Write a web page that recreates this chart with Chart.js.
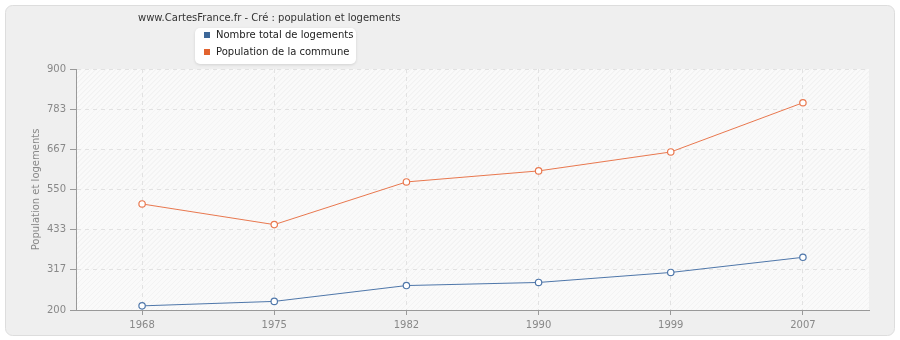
<!DOCTYPE html>
<html lang="fr">
<head>
  <meta charset="UTF-8" />
  <title>Cré : population et logements</title>
  <style>
    html, body { margin: 0; padding: 0; background: #ffffff; }
    #wrap { width: 900px; height: 340px; }
  </style>
</head>
<body>
  <div id="wrap"><canvas id="myChart" width="900" height="340"></canvas></div>

  <script src="https://cdn.jsdelivr.net/npm/chart.js"></script>
  <script>
    // données
    const annees = ['1968', '1975', '1982', '1990', '1999', '2007'];
    const logements = [212, 225, 271, 280, 309, 353];
    const population = [508, 448, 572, 604, 659, 802];
    const yTicks = [200, 317, 433, 550, 667, 783, 900];

    const titre = 'www.CartesFrance.fr - Cré : population et logements';
    const police = 'Tahoma, "DejaVu Sans", Verdana, sans-serif';

    // fond du cadre, zone hachurée, titre et légende
    const decor = {
      id: 'decor',
      beforeDraw(chart) {
        const ctx = chart.ctx;
        const a = chart.chartArea;
        ctx.save();
        // cadre arrondi
        ctx.fillStyle = '#efefef';
        ctx.strokeStyle = '#dddddd';
        ctx.lineWidth = 1;
        ctx.beginPath();
        ctx.roundRect(5.5, 5.5, 889, 330, 7);
        ctx.fill();
        ctx.stroke();

        // zone de tracé
        ctx.fillStyle = '#fafafa';
        ctx.fillRect(a.left, a.top, a.right - a.left, a.bottom - a.top);
        const ys = chart.scales.y;
        for (let i = 0; i < yTicks.length - 1; i++) {
          const yTop = ys.getPixelForValue(yTicks[i + 1]);
          const yBot = ys.getPixelForValue(yTicks[i]);
          ctx.save();
          ctx.beginPath();
          ctx.rect(a.left, yTop, a.right - a.left, yBot - yTop);
          ctx.clip();
          ctx.strokeStyle = (i % 2 === 1) ? '#eeeeee' : '#f3f3f3';
          ctx.lineWidth = 1;
          ctx.beginPath();
          for (let x = a.left - 300; x < a.right + 300; x += 5) {
            ctx.moveTo(x, yBot);
            ctx.lineTo(x + (yBot - yTop) + 20, yTop - 20);
          }
          ctx.stroke();
          ctx.restore();
        }
        ctx.restore();
      },
      afterDraw(chart) {
        const ctx = chart.ctx;
        ctx.save();
        ctx.font = '10px ' + police;
        ctx.fillStyle = '#333333';
        ctx.textBaseline = 'middle';
        ctx.textAlign = 'left';
        ctx.fillText(titre, 138, 18);

        // légende
        ctx.shadowColor = 'rgba(0,0,0,0.12)';
        ctx.shadowBlur = 3;
        ctx.shadowOffsetY = 1;
        ctx.fillStyle = '#ffffff';
        ctx.beginPath();
        ctx.roundRect(195, 28, 161, 36, 5);
        ctx.fill();
        ctx.shadowColor = 'transparent';
        chart.data.datasets.forEach((ds, i) => {
          const y = 35 + i * 17;
          ctx.fillStyle = ds.legendColor;
          ctx.fillRect(204, y - 3, 6, 6);
          ctx.fillStyle = '#222222';
          ctx.fillText(ds.label, 216, y);
        });
        ctx.restore();
      }
    };

    const context = document.getElementById('myChart').getContext('2d');
    const myChart = new Chart(context, {
      type: 'line',
      data: {
        labels: annees,
        datasets: [
          {
            label: 'Nombre total de logements',
            data: logements,
            borderColor: '#4f77aa',
            legendColor: '#3d6899',
            backgroundColor: '#ffffff',
            pointBackgroundColor: '#ffffff',
            pointBorderColor: '#4f77aa',
            borderWidth: 1,
            pointRadius: 3.2,
            pointBorderWidth: 1.2,
            tension: 0
          },
          {
            label: 'Population de la commune',
            data: population,
            borderColor: '#e9784f',
            legendColor: '#e2632f',
            backgroundColor: '#ffffff',
            pointBackgroundColor: '#ffffff',
            pointBorderColor: '#e9784f',
            borderWidth: 1,
            pointRadius: 3.2,
            pointBorderWidth: 1.2,
            tension: 0
          }
        ]
      },
      options: {
        responsive: false,
        animation: false,
        layout: { padding: { top: 69, right: 31, bottom: 5, left: 30 } },
        plugins: {
          legend: { display: false },
          title: { display: false },
          tooltip: { enabled: false }
        },
        scales: {
          x: {
            offset: true,
            grid: {
              color: '#e2e2e2',
              tickColor: '#999999',
              tickLength: 5,
              offset: false,
              drawOnChartArea: true
            },
            border: { color: '#999999', dash: [4, 4], display: true },
            ticks: { color: '#888888', font: { family: police, size: 10 }, padding: 4 }
          },
          y: {
            min: 200,
            max: 900,
            afterBuildTicks(scale) {
              scale.ticks = yTicks.map(v => ({ value: v }));
            },
            afterFit(scale) { scale.width = 46; },
            grid: { color: '#e2e2e2', tickColor: '#999999', tickLength: 6 },
            border: { color: '#999999', dash: [4, 4] },
            ticks: {
              color: '#888888',
              font: { family: police, size: 10 },
              padding: 4,
              callback: (v) => v
            },
            title: {
              display: true,
              text: 'Population et logements',
              color: '#888888',
              font: { family: police, size: 10 },
              padding: { top: 0, bottom: 4 }
            }
          }
        }
      },
      plugins: [decor]
    });
  </script>
</body>
</html>
